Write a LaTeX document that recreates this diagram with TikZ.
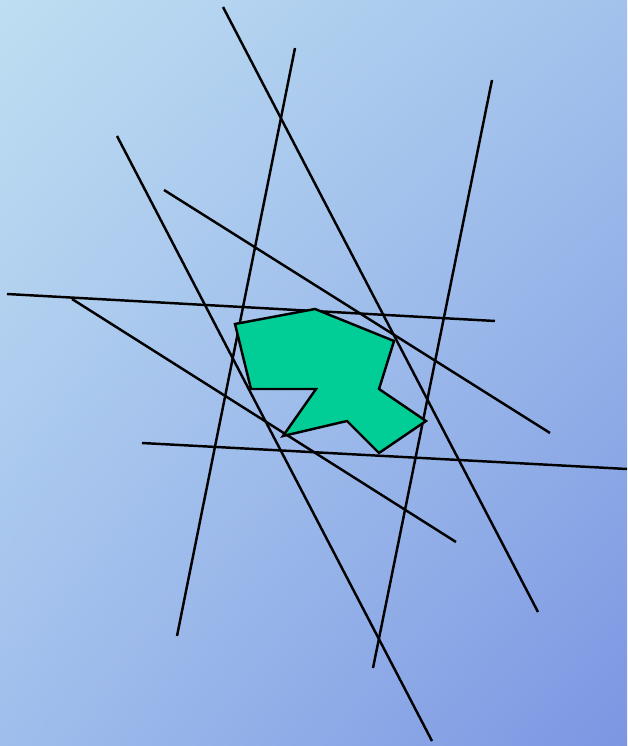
\documentclass[tikz,border=0pt]{standalone}
\usepackage{tikz}
\usetikzlibrary{shadings}
\definecolor{bgtl}{RGB}{190,222,242}
\definecolor{bgtr}{RGB}{162,194,236}
\definecolor{bgbl}{RGB}{160,190,236}
\definecolor{bgbr}{RGB}{124,150,226}
\definecolor{polygreen}{RGB}{0,206,150}

\begin{document}
\begin{tikzpicture}[x=0.02cm,y=-0.02cm,
    cut/.style={black,line width=1.4pt},
    poly/.style={black,line width=1.4pt,fill=polygreen,line join=miter}]

%-------------------------------------------------------------------
% Background
\shade[upper left=bgtl,upper right=bgtr,lower left=bgbl,lower right=bgbr]
  (0,0) rectangle (627,746);
\useasboundingbox (0,0) rectangle (627,746);

% Straight lines
\foreach \xa/\ya/\xb/\yb in {223/7/538/612,295/48/177/636,492/80/373/668,
    117/136/432/741,164/190/550/433,7/294/495/321,72/299/456/542,142/443/627/469}{
    \draw[cut] (\xa,\ya)--(\xb,\yb);
}

% Green polygon
\draw[poly]
  (235,324)--(315,309)--(394,341)--(379,389)--(426,421)
  --(379,453)--(347,421)--(283,436)--(316,389)--(251,389)--cycle;

\end{tikzpicture}
\end{document}
